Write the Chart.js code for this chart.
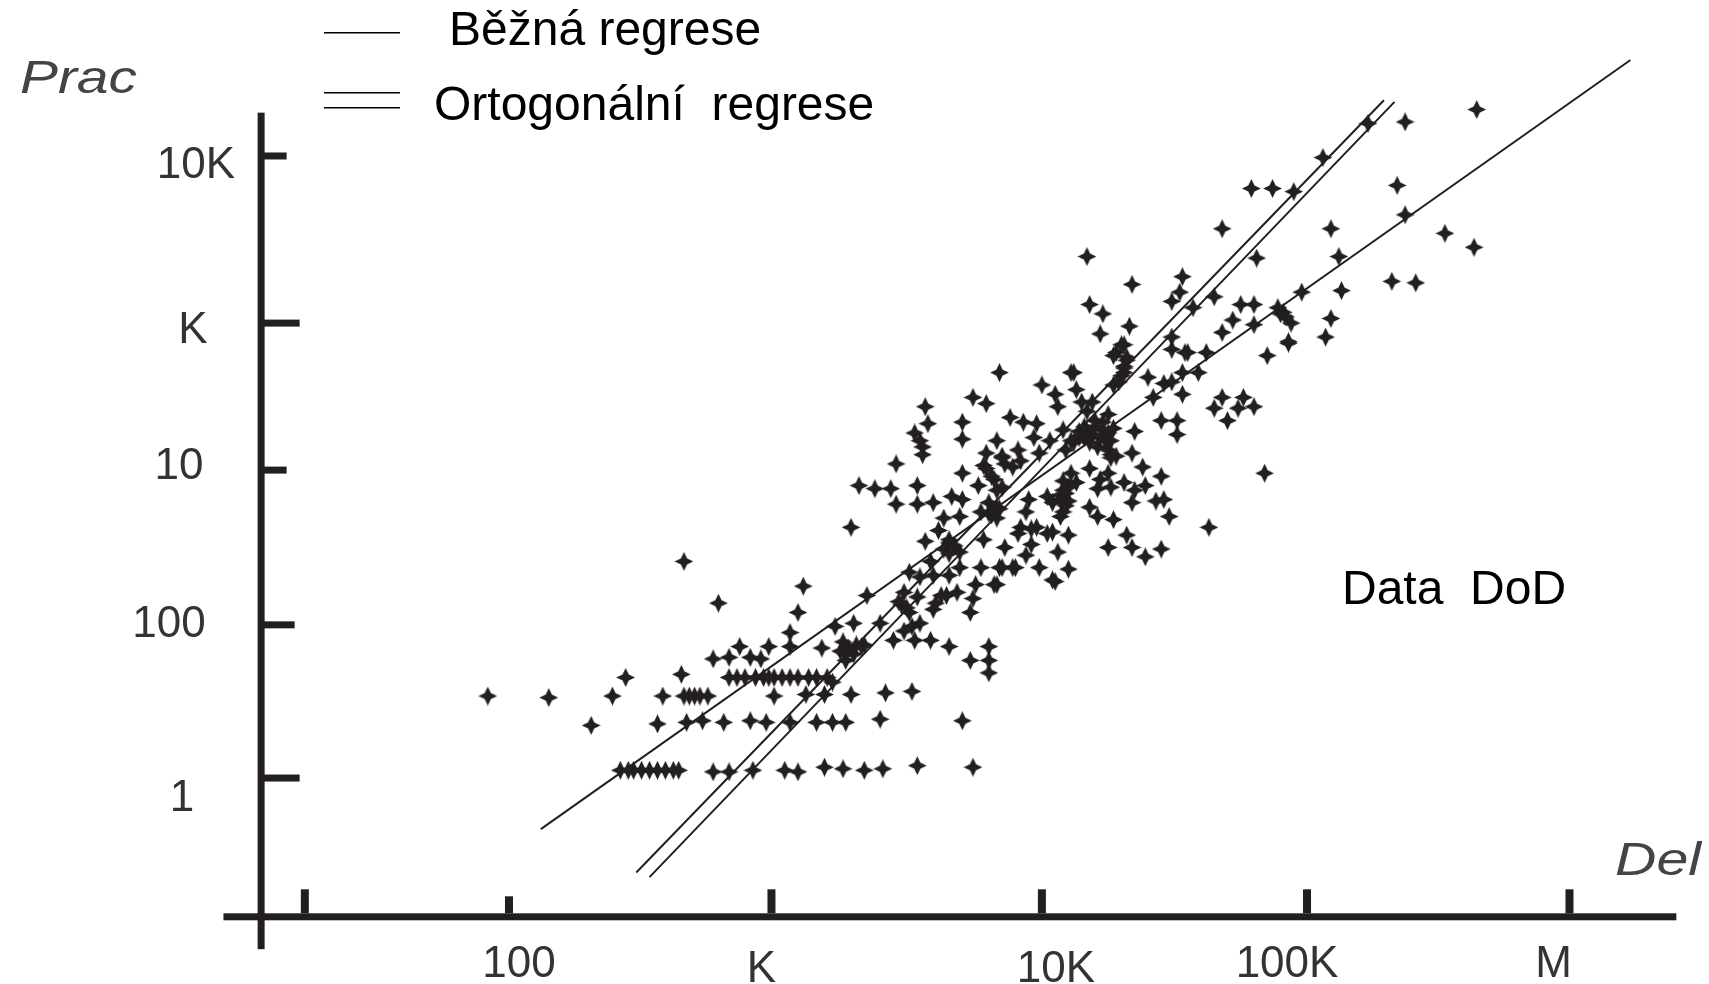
<!DOCTYPE html>
<html lang="cs">
<head>
<meta charset="UTF-8">
<title>Data DoD</title>
<script src="https://cdn.jsdelivr.net/npm/chart.js"></script>
<style>
  html, body { margin: 0; padding: 0; background: #fff; }
  canvas { display: block; }
</style>
</head>
<body>
<canvas id="myChart" width="1709" height="984"></canvas>
<script>
// all values are log10 decades
const pointDel = [
  1.92,2.15,2.39,2.44,2.31,2.56,2.58,2.65,2.66,2.70,2.75,2.77,2.79,3.11,3.09,
  2.67,2.73,2.81,2.91,2.97,3.06,3.16,3.22,3.27,3.40,3.71,
  2.42,2.47,2.53,2.59,2.64,2.77,2.83,2.92,3.04,3.09,3.19,3.26,3.34,3.41,3.54,3.75,
  3.00,3.12,3.19,3.29,3.42,3.52,
  2.83,2.89,2.96,3.00,3.06,3.13,3.20,3.22,
  2.83,2.87,2.91,2.95,2.98,3.06,3.06,3.23,3.30,3.40,3.55,
  3.18,3.27,3.34,3.27,3.45,3.53,3.59,3.66,3.81,3.74,3.81,3.81,
  3.35,3.51,3.49,3.55,3.54,3.51,3.60,3.66,3.63,3.60,3.70,3.78,3.85,3.90,3.76,3.75,3.74,3.83,4.00,4.06,2.66,
  3.85,3.57,3.58,3.53,3.56,3.56,3.55,3.71,3.71,3.46,3.32,3.38,3.44,3.46,3.54,3.54,3.60,3.29,
  3.75,3.80,4.01,4.06,4.07,4.13,4.14,4.16,3.89,3.94,3.99,3.84,3.80,3.79,3.87,3.71,3.77,3.83,3.86,
  3.92,3.98,4.04,4.09,4.00,3.67,3.71,3.81,3.81,3.84,3.96,3.95,3.64,3.70,3.57,3.66,3.70,3.79,3.87,3.86,3.91,3.84,
  3.93,3.99,4.05,4.11,3.97,3.95,4.07,4.11,4.05,4.08,4.09,4.09,4.08,4.12,4.14,4.11,4.19,4.22,4.28,4.26,4.33,4.35,4.40,4.46,
  4.35,4.44,4.47,4.49,4.22,4.26,4.27,4.32,4.39,4.40,4.46,4.26,4.29,4.36,4.35,4.27,
  4.13,4.17,4.20,4.24,4.28,4.22,4.27,4.18,4.26,4.20,4.28,4.32,4.33,4.29,4.32,4.41,4.47,4.50,4.54,4.54,4.60,4.43,
  4.50,4.56,4.63,4.86,4.94,4.46,4.52,4.52,4.69,4.66,4.77,4.75,4.81,4.71,4.85,4.64,3.65,3.69,3.61,
  5.65,5.38,5.24,5.07,4.80,4.88,4.96,5.35,5.38,4.69,5.10,5.53,5.64,5.13,4.82,4.18,5.33,5.42,4.35,5.14,
  4.54,4.53,4.50,4.99,4.66,4.76,4.81,4.73,4.81,4.69,4.92,4.95,5.10,5.08,4.94,
  4.19,4.24,4.34,4.23,4.31,4.28,4.32,4.58,4.50,4.55,4.12,
  // dense spots where the marks run together
  4.15,4.18,4.21,4.24,4.15,4.19,4.23,4.26,4.17,4.21,4.25,4.12,4.10,
  3.25,3.28,3.31,3.26,3.30,3.33,
  4.31,4.32,4.33,4.30,4.91,4.93,4.90,
  3.83,3.85,3.82,3.84,3.66,3.68,3.64,3.48,3.50,3.47,
  4.09,4.10,4.08,4.10,4.09,4.03,4.05,3.93,3.90,3.82,3.86,3.62,3.59,3.66,3.52,3.49,
  3.80,3.84,3.78,3.86,3.92,3.97,4.03,4.11,4.19,4.27,4.36,4.23,
  // rows joined by short bars
  2.45,2.50,2.56,2.62,2.86,2.93,2.98,3.03,3.09,3.16,2.68,2.72
];
const pointPrac = [
  .53,.52,.53,.65,.34,.35,.53,.67,.53,.53,.53,.77,1.13,1.24,1.07,
  .36,.37,.36,.37,.36,.36,.36,.36,.36,.38,.37,
  .05,.05,.05,.05,.05,.04,.04,.05,.05,.04,.07,.06,.05,.06,.08,.07,
  .53,.54,.54,.54,.55,.56,
  .65,.65,.65,.65,.65,.65,.65,.62,
  .78,.85,.78,.77,.85,.94,.85,.98,1.00,1.00,1.00,
  .84,.80,.86,.76,.89,.89,.89,.85,.85,.76,.76,.68,
  1.18,1.33,1.20,1.30,1.17,1.07,1.31,1.31,1.18,1.09,1.36,1.36,1.36,1.36,1.25,1.16,1.07,1.25,1.36,1.27,1.40,
  2.62,2.40,2.29,2.23,2.14,2.09,2.18,2.30,2.19,2.03,1.89,1.87,1.87,1.77,1.89,1.77,1.78,1.62,
  2.46,2.42,2.54,2.48,2.40,2.62,2.51,2.43,2.33,2.30,2.29,2.18,2.10,2.02,2.03,1.97,1.89,1.93,1.88,
  2.12,2.20,2.18,2.25,2.10,1.82,1.80,1.78,1.71,1.75,1.80,1.72,1.68,1.69,1.53,1.54,1.46,1.54,1.49,1.36,1.36,1.25,
  1.62,1.62,1.59,1.57,1.51,1.44,1.46,1.35,1.28,1.69,1.78,1.86,1.83,1.97,1.91,1.88,1.75,1.69,1.67,1.49,1.57,1.49,1.43,1.48,
  1.78,1.79,1.80,1.69,1.87,1.97,1.88,1.91,2.01,1.89,1.95,2.12,2.08,2.24,2.10,2.18,
  2.17,2.20,2.22,2.25,2.26,2.14,2.09,2.37,2.35,2.43,2.54,2.62,2.70,2.75,2.80,2.59,2.55,2.56,2.62,2.48,2.62,2.46,
  2.77,2.75,2.75,2.73,2.81,2.31,2.31,2.22,2.46,2.39,2.46,2.39,2.40,2.31,1.97,1.62,1.18,1.20,1.13,
  4.32,4.24,4.23,4.01,3.81,3.81,3.79,3.83,3.64,3.55,3.55,3.52,3.43,3.37,3.36,3.37,3.21,3.20,3.19,3.15,
  3.24,3.14,3.08,3.14,3.11,3.06,3.06,2.96,2.93,2.88,3.01,2.94,2.97,2.85,2.82,
  3.06,3.00,2.92,2.87,2.80,2.73,2.65,3.04,2.85,2.75,2.62,
  // dense spots where the marks run together
  2.20,2.24,2.27,2.30,2.24,2.17,2.20,2.23,2.27,2.31,2.18,2.18,2.12,
  .82,.84,.86,.88,.80,.85,
  2.60,2.66,2.72,2.56,3.00,2.98,3.04,
  1.72,1.74,1.70,1.68,1.52,1.50,1.48,1.12,1.10,1.14,
  1.72,1.76,1.80,1.84,1.92,1.82,1.78,2.05,2.01,1.95,2.08,1.60,1.40,1.45,.98,.95,
  2.00,1.86,1.72,2.07,1.58,1.61,1.58,1.79,2.00,2.07,1.86,1.93,
  // rows joined by short bars
  .05,.05,.05,.05,.65,.65,.65,.65,.65,.65,.53,.53
];

const regDel = [2.12, 6.23];
const regPrac = [-0.33, 4.64];
const orthoADel = [2.48, 5.30];
const orthoAPrac = [-0.61, 4.38];
const orthoBDel = [2.53, 5.34];
const orthoBPrac = [-0.64, 4.37];

const xTickValues = [1.23, 2, 2.99, 4.01, 5.01, 6];
const xTickLabels = ['', '100', 'K', '10K', '100K', 'M'];
const yTickValues = [4.02, 2.94, 1.99, 0.99, 0];
const yTickLabels = ['10K', 'K', '10', '100', '1'];

const ink = '#231f20';

function pairs(xs, ys) {
  return xs.map((x, i) => ({ x: x, y: ys[i] }));
}

// little four pointed blob like the ones in the scan
function makeMarker() {
  const c = document.createElement('canvas');
  c.width = 19; c.height = 19;
  const g = c.getContext('2d');
  g.fillStyle = ink;
  g.beginPath();
  for (let i = 0; i < 8; i++) {
    const r = i % 2 === 0 ? 9.4 : 4.4;
    const a = i * Math.PI / 4 - Math.PI / 2;
    g.lineTo(9.5 + r * Math.cos(a), 9.5 + r * Math.sin(a));
  }
  g.closePath();
  g.fill();
  return c;
}

function regLine(xs, ys) {
  return {
    type: 'line', data: pairs(xs, ys), borderColor: ink, borderWidth: 2,
    pointRadius: 0, fill: false, tension: 0
  };
}

// text stretched sideways only, the scan is wider than the font
function wideText(c, text, px, py, sx) {
  c.save();
  c.translate(px, py);
  c.scale(sx, 1);
  c.fillText(text, 0, 0);
  c.restore();
}

// axes and all the text sit at odd places in the reference, so they are drawn here
const axisDecor = {
  id: 'axisDecor',
  afterDatasetsDraw(chart) {
    const c = chart.ctx, x = chart.scales.x, y = chart.scales.y;
    const axisX = x.getPixelForValue(1.067), axisY = y.getPixelForValue(-0.90);
    c.save();
    c.fillStyle = ink;
    // axis lines
    c.fillRect(axisX - 4, y.getPixelForValue(4.30), 7, y.getPixelForValue(-1.106) - y.getPixelForValue(4.30));
    c.fillRect(x.getPixelForValue(0.923), axisY - 4, x.getPixelForValue(6.403) - x.getPixelForValue(0.923), 7);
    // ticks
    const xLen = [24, 17, 24, 24, 24, 24];
    xTickValues.forEach((v, i) => {
      c.fillRect(x.getPixelForValue(v) - 4, axisY - 4 - xLen[i], 8, xLen[i]);
    });
    const yLen = [25, 38, 25, 33, 38];
    yTickValues.forEach((v, i) => {
      c.fillRect(axisX, y.getPixelForValue(v) - 3.5, yLen[i], 7);
    });
    // tick labels
    c.font = '44px "Liberation Sans", Arial, sans-serif';
    c.fillStyle = '#333';
    c.textAlign = 'center';
    const xDx = [0, 10, -10, 14, -20, -16];
    const xBase = [0, 977, 982, 982, 977, 977];
    xTickLabels.forEach((t, i) => {
      if (t) c.fillText(t, x.getPixelForValue(xTickValues[i]) + xDx[i], xBase[i]);
    });
    const yCenter = [196, 193, 179, 169, 182];
    const yDy = [22, 20, 9, 12, 33];
    yTickLabels.forEach((t, i) => {
      c.fillText(t, yCenter[i], y.getPixelForValue(yTickValues[i]) + yDy[i]);
    });
    // axis titles
    c.textAlign = 'left';
    c.fillStyle = '#444';
    c.font = 'italic 47px "Liberation Sans", Arial, sans-serif';
    wideText(c, 'Prac', 20, 93, 1.21);
    wideText(c, 'Del', 1615, 875, 1.22);
    // legend and note
    c.fillStyle = '#000';
    c.font = '48px "Liberation Sans", Arial, sans-serif';
    c.fillText('Běžná regrese', 449, 45);
    c.fillText('Ortogonální  regrese', 434, 120);
    c.fillText('Data  DoD', 1342, 604);
    c.fillRect(324, 32, 76, 1.5);
    c.fillRect(324, 92, 76, 1.5);
    c.fillRect(324, 107, 76, 1.5);
    c.restore();
  }
};

new Chart(document.getElementById('myChart'), {
  type: 'scatter',
  data: {
    datasets: [
      { data: pairs(pointDel, pointPrac), pointStyle: makeMarker(), pointRadius: 9, backgroundColor: ink },
      regLine(regDel, regPrac),
      regLine(orthoADel, orthoAPrac),
      regLine(orthoBDel, orthoBPrac)
    ]
  },
  options: {
    responsive: false,
    animation: false,
    layout: { padding: 0, autoPadding: false },
    plugins: { legend: { display: false }, title: { display: false }, tooltip: { enabled: false } },
    scales: {
      x: { type: 'linear', display: false, min: 0.0802, max: 6.5262 },
      y: { type: 'linear', display: false, min: -1.331, max: 5.028 }
    }
  },
  plugins: [axisDecor]
});
</script>
</body>
</html>
